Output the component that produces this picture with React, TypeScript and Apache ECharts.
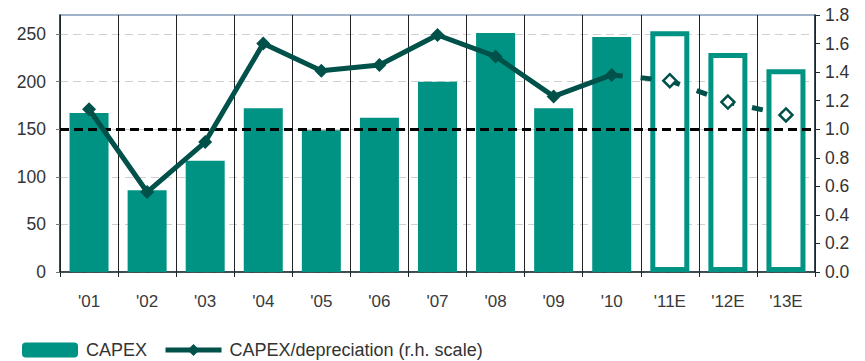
import React, { useEffect, useRef } from "react";
import * as echarts from "echarts";

const categories = ["'01", "'02", "'03", "'04", "'05", "'06", "'07", "'08", "'09", "'10", "'11E", "'12E", "'13E"];
const capex = [167, 86, 117, 172, 149, 162, 200, 251, 172, 247, 253, 230, 213];
const forecastFlags = [false, false, false, false, false, false, false, false, false, false, true, true, true];
const ratioActual = [1.14, 0.56, 0.91, 1.6, 1.41, 1.45, 1.66, 1.51, 1.23, 1.38];
const ratioForecast = [1.34, 1.19, 1.1];
const referenceRatio = 1.0;

const TEAL = "#009282";
const DARK = "#00514a";
const TEXT = "#333333";
const FONT = "'Liberation Sans', Arial, sans-serif";

export default function App() {
  const ref = useRef<HTMLDivElement>(null);
  useEffect(() => {
    if (!ref.current) return;
    const chart = echarts.init(ref.current, undefined, { renderer: "svg" });
    const n = categories.length;
    const barData = capex.map((v, i) =>
      forecastFlags[i]
        ? { value: v, itemStyle: { color: "#ffffff", borderColor: TEAL, borderWidth: 5 } }
        : { value: v }
    );
    const line1: any[] = [];
    const line2: any[] = [];
    for (let i = 0; i < n; i++) {
      line1.push(i < ratioActual.length ? ratioActual[i] : "-");
    }
    const lastIdx = ratioActual.length - 1;
    for (let i = 0; i < n; i++) {
      if (i < lastIdx) line2.push("-");
      else if (i === lastIdx) line2.push({ value: ratioActual[lastIdx], symbol: "none" });
      else line2.push(ratioForecast[i - ratioActual.length]);
    }
    chart.setOption({
      animation: false,
      backgroundColor: "#ffffff",
      textStyle: { fontFamily: FONT },
      grid: {
        left: 60,
        right: 50,
        top: 15,
        bottom: 89,
        show: true,
        borderColor: "#8298b6",
        borderWidth: 1.5,
        backgroundColor: "transparent",
      },
      legend: {
        left: 17,
        top: 336,
        itemWidth: 56,
        itemHeight: 15,
        itemGap: 16,
        data: ["CAPEX", "CAPEX/depreciation (r.h. scale)"],
        lineStyle: { width: 5 },
        textStyle: { fontSize: 18, color: TEXT, fontFamily: FONT, padding: [0, 0, 0, 3] },
      },
      xAxis: {
        type: "category",
        data: categories,
        boundaryGap: true,
        axisLine: { lineStyle: { color: "#1a2a2a", width: 1.5 } },
        axisTick: { show: true, length: 5, interval: 0, lineStyle: { color: "#1a2a2a" } },
        axisLabel: { fontSize: 17, color: "#3a3a3a", margin: 21, interval: 0, fontFamily: FONT },
        splitLine: { show: true, interval: 0, lineStyle: { color: "#222222", width: 1 } },
      },
      yAxis: [
        {
          type: "value",
          min: 0,
          max: 270,
          interval: 50,
          axisLine: { show: true, lineStyle: { color: "#1a2a2a", width: 1.5 } },
          axisTick: { show: true, length: 4, lineStyle: { color: "#777777" } },
          axisLabel: { fontSize: 17.5, color: TEXT, margin: 14, showMaxLabel: false, fontFamily: FONT },
          splitLine: {
            show: true,
            showMaxLine: false,
            lineStyle: { color: "#d0d0d0", type: [8, 5], width: 1 },
          },
        },
        {
          type: "value",
          min: 0,
          max: 1.8,
          interval: 0.2,
          axisLine: { show: true, lineStyle: { color: "#1a2a2a", width: 1.5 } },
          axisTick: { show: true, length: 5, inside: false, lineStyle: { color: "#1a2a2a" } },
          axisLabel: {
            fontSize: 17.5,
            color: TEXT,
            margin: 10,
            fontFamily: FONT,
            formatter: (v: number) => v.toFixed(1),
          },
          splitLine: { show: false },
        },
      ],
      series: [
        {
          name: "CAPEX",
          type: "bar",
          data: barData,
          barWidth: 39,
          itemStyle: { color: TEAL },
          z: 2,
        },
        {
          name: "ref",
          type: "line",
          yAxisIndex: 1,
          data: [],
          z: 3,
          markLine: {
            silent: true,
            symbol: "none",
            label: { show: false },
            lineStyle: { color: "#000000", width: 3, type: [9, 5] },
            data: [{ yAxis: referenceRatio }],
          },
        },
        {
          name: "CAPEX/depreciation (r.h. scale)",
          type: "line",
          yAxisIndex: 1,
          data: line1,
          symbol: "diamond",
          symbolSize: 14,
          lineStyle: { color: DARK, width: 5 },
          itemStyle: { color: DARK },
          z: 5,
        },
        {
          name: "forecast",
          type: "line",
          yAxisIndex: 1,
          data: line2,
          symbol: "diamond",
          symbolSize: 13,
          showAllSymbol: true,
          lineStyle: { color: DARK, width: 5, type: [11, 18] },
          itemStyle: { color: "#ffffff", borderColor: DARK, borderWidth: 2.5 },
          z: 5,
        },
      ],
    });
    return () => chart.dispose();
  }, []);
  return <div ref={ref} style={{ width: 865, height: 361, position: "absolute", left: 0, top: 0 }} />;
}
